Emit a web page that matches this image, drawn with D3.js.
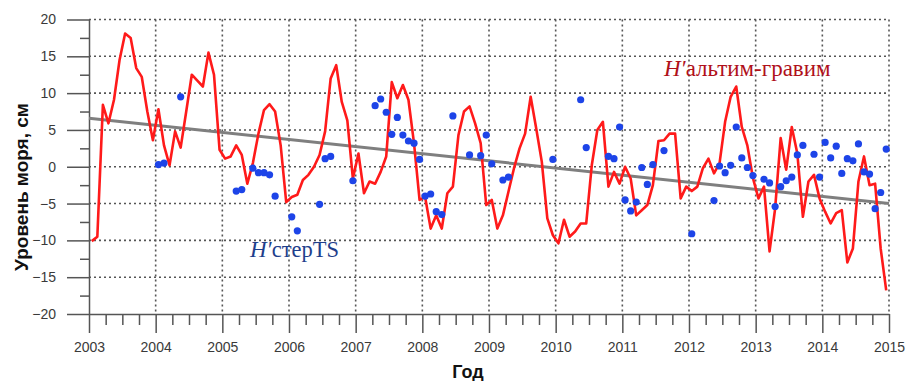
<!DOCTYPE html>
<html>
<head>
<meta charset="utf-8">
<script src="https://cdn.jsdelivr.net/npm/d3@7"></script>
<style>
  body { margin: 0; background: #fff; }
  svg { display: block; font-family: "Liberation Sans", Arial, sans-serif; }
</style>
</head>
<body>
<script>
// monthly altimetry-gravimetry sea level, Jan 2003 .. Dec 2014 (mid-month)
var altimStart = 2003;
var altimValues = [
  -10.1, -9.5, 8.4, 5.9, 9.1, 14.5, 18.1, 17.5, 13.4, 12.2, 7.5, 3.6,
  7.8, 2.9, 0.2, 4.8, 2.6, 7.5, 12.5, 11.7, 10.9, 15.5, 12.5, 2.3,
  1.1, 1.4, 2.9, 1.6, -2.3, 0.5, 4.5, 7.7, 8.5, 7.5, 2.9, -4.8,
  -4.1, -3.8, -1.8, -1.1, 0.0, 1.6, 4.8, 12.0, 13.8, 8.8, 6.3, -1.6,
  1.8, -3.6, -2.0, -2.3, -0.7, 1.4, 11.5, 9.3, 11.1, 9.1, 3.2, -4.5,
  -4.1, -8.4, -6.6, -8.4, -3.6, -2.7, 4.3, 7.5, 8.2, 5.9, 3.2, -5.2,
  -4.5, -8.4, -6.6, -3.4, -0.2, 2.5, 4.5, 9.5, 5.2, 0.7, -7.0, -9.3,
  -10.4, -7.2, -9.5, -8.8, -7.7, -7.7, 0.2, 5.0, 6.1, -2.7, -0.7, -2.3,
  0.0, -1.6, -6.6, -5.9, -5.2, -2.5, 3.5, 3.6, 4.5, 4.5, -4.3, -2.7,
  -3.3, -2.7, -0.2, 1.1, -0.9, 0.5, 6.1, 9.5, 10.9, 5.4, 2.9, -1.5,
  -4.3, -2.7, -11.5, -5.7, 3.9, -0.4, 5.4, 1.8, -6.8, -2.0, -1.1, -4.3,
  -6.1, -7.7, -6.3, -5.9, -13.0, -11.1, -2.0, 1.4, -2.5, -2.3, -11.1, -16.8
];

// steric (TS) sea level, months with data
var sterDates = [
  "2004-01","2004-02","2004-05",
  "2005-03","2005-04","2005-06","2005-07","2005-08","2005-09","2005-10",
  "2006-01","2006-02","2006-06","2006-07","2006-08","2006-12",
  "2007-04","2007-05","2007-06","2007-07","2007-08","2007-09","2007-10","2007-11","2007-12",
  "2008-01","2008-02","2008-03","2008-04","2008-06","2008-09","2008-11","2008-12",
  "2009-01","2009-03","2009-04","2009-12",
  "2010-05","2010-06","2010-10","2010-11","2010-12",
  "2011-01","2011-02","2011-03","2011-04","2011-05","2011-06","2011-08",
  "2012-01","2012-05","2012-06","2012-07","2012-08","2012-09","2012-10","2012-11","2012-12",
  "2013-02","2013-03","2013-04","2013-05","2013-06","2013-07","2013-08","2013-09","2013-11","2013-12",
  "2014-01","2014-02","2014-03","2014-04","2014-05","2014-06","2014-07","2014-08","2014-09","2014-10","2014-11","2014-12"
];
var sterValues = [
  0.3, 0.5, 9.5,
  -3.3, -3.1, -0.2, -0.8, -0.8, -1.1, -4.0,
  -6.8, -8.7, -5.1, 1.1, 1.4, -1.9,
  8.3, 9.2, 7.4, 4.4, 6.7, 4.3, 3.5, 3.2, 1.0,
  -4.0, -3.7, -6.1, -6.5, 6.9, 1.6, 1.5, 4.3,
  0.4, -1.8, -1.4, 1.0,
  9.1, 2.6, 1.4, 1.1, 5.4,
  -4.5, -6.0, -4.8, -0.1, -2.4, 0.3, 2.2,
  -9.1, -4.6, 0.1, -0.8, 0.2, 5.4, 1.2, -0.1, -1.2,
  -1.7, -2.2, -5.4, -2.7, -1.9, -1.4, 1.6, 2.9, 1.7, -1.4,
  3.3, 1.2, 2.8, -0.9, 1.1, 0.8, 3.1, -0.7, -1.0, -5.7, -3.5, 2.4
];

// linear trend
var trendYears = [2003, 2015];
var trendValues = [6.6, -5.0];

var yTicks = [-20, -15, -10, -5, 0, 5, 10, 15, 20];
var xTicks = d3.range(2003, 2016);

var width = 909, height = 381,
    plotLeft = 89, plotRight = 889, plotTop = 19.5, plotBottom = 314;

var x_scale = d3.scaleLinear().domain([2003, 2015]).range([plotLeft, plotRight]);
var y_scale = d3.scaleLinear().domain([-20, 20]).range([plotBottom, plotTop]);

var svg = d3.select("body").append("svg")
    .attr("width", width)
    .attr("height", height);

// dotted grid
svg.append("g").selectAll("line")
  .data(yTicks.filter(function(d){ return d > -20; }))
  .enter().append("line")
    .attr("x1", plotLeft).attr("x2", plotRight)
    .attr("y1", function(d){ return y_scale(d); })
    .attr("y2", function(d){ return y_scale(d); })
    .attr("stroke", "#555").attr("stroke-width", 1.6)
    .attr("stroke-dasharray", "2,3");

svg.append("g").selectAll("line")
  .data(xTicks.filter(function(d){ return d > 2003; }))
  .enter().append("line")
    .attr("x1", function(d){ return x_scale(d); })
    .attr("x2", function(d){ return x_scale(d); })
    .attr("y1", plotTop).attr("y2", plotBottom)
    .attr("stroke", "#555").attr("stroke-width", 1.6)
    .attr("stroke-dasharray", "2,3");

// axes: minor ticks first, then majors with labels
var minorY = d3.range(-17.5, 20, 5);
svg.append("g")
    .attr("class", "minor")
    .attr("transform", "translate(" + plotLeft + ",0)")
    .call(d3.axisLeft(y_scale).tickValues(minorY).tickSize(9).tickFormat(""))
    .call(function(g){ g.select(".domain").remove(); });

var minorX = d3.range(2003, 2015.01, 0.25).filter(function(d){ return d % 1 !== 0; });
svg.append("g")
    .attr("class", "minor")
    .attr("transform", "translate(0," + plotBottom + ")")
    .call(d3.axisBottom(x_scale).tickValues(minorX).tickSize(11).tickFormat(""))
    .call(function(g){ g.select(".domain").remove(); });

svg.append("g")
    .attr("class", "y axis")
    .attr("transform", "translate(" + plotLeft + ",0)")
    .call(d3.axisLeft(y_scale).tickValues(yTicks).tickSize(22).tickPadding(11).tickSizeOuter(0));

svg.append("g")
    .attr("class", "x axis")
    .attr("transform", "translate(0," + plotBottom + ")")
    .call(d3.axisBottom(x_scale).tickValues(xTicks).tickSize(19).tickPadding(9)
      .tickFormat(d3.format("d")).tickSizeOuter(0));

svg.selectAll(".axis path, .axis line, .minor line")
    .attr("stroke", "#555").attr("stroke-width", 1.5);
svg.selectAll(".axis text")
    .attr("font-size", 14).attr("fill", "#3a3a3a")
    .attr("font-family", "'Liberation Sans', Arial, sans-serif");

// trend line
svg.append("line")
    .attr("x1", x_scale(trendYears[0])).attr("y1", y_scale(trendValues[0]))
    .attr("x2", x_scale(trendYears[1])).attr("y2", y_scale(trendValues[1]))
    .attr("stroke", "#7f7f7f").attr("stroke-width", 3);

// altimetry-gravimetry line
var altim = altimValues.map(function(v, i){
  return { t: altimStart + (i + 0.5) / 12, v: v };
});
var line = d3.line()
    .x(function(d){ return x_scale(d.t); })
    .y(function(d){ return y_scale(d.v); });

svg.append("path")
    .datum(altim)
    .attr("d", line)
    .attr("fill", "none")
    .attr("stroke", "#ff1a1a")
    .attr("stroke-width", 2.6)
    .attr("stroke-linejoin", "round");

// steric points
var ster = sterDates.map(function(s, i){
  var p = s.split("-");
  return { t: +p[0] + (+p[1] - 0.5) / 12, v: sterValues[i] };
});
svg.append("g").selectAll("circle")
  .data(ster)
  .enter().append("circle")
    .attr("cx", function(d){ return x_scale(d.t); })
    .attr("cy", function(d){ return y_scale(d.v); })
    .attr("r", 3.6)
    .attr("fill", "#1d44e8");

// series labels
var lab1 = svg.append("text")
    .attr("x", 250).attr("y", 257)
    .attr("font-family", "'Liberation Serif', 'Times New Roman', serif")
    .attr("fill", "#1f3f8c").attr("font-size", 23);
lab1.append("tspan").attr("font-style", "italic").text("H′");
lab1.append("tspan").attr("font-size", 22.5).text("стерTS");

var lab2 = svg.append("text")
    .attr("x", 664).attr("y", 76)
    .attr("font-family", "'Liberation Serif', 'Times New Roman', serif")
    .attr("fill", "#b0101a").attr("font-size", 23);
lab2.append("tspan").attr("font-style", "italic").text("H′");
lab2.append("tspan").attr("font-size", 23).text("альтим-гравим");

// axis titles
svg.append("text")
    .attr("transform", "translate(28,187) rotate(-90)")
    .attr("text-anchor", "middle")
    .attr("font-weight", "bold").attr("font-size", 19)
    .attr("fill", "#111")
    .text("Уровень моря, см");

svg.append("text")
    .attr("x", 468).attr("y", 378)
    .attr("text-anchor", "middle")
    .attr("font-weight", "bold").attr("font-size", 18)
    .attr("fill", "#111")
    .text("Год");
</script>
</body>
</html>
